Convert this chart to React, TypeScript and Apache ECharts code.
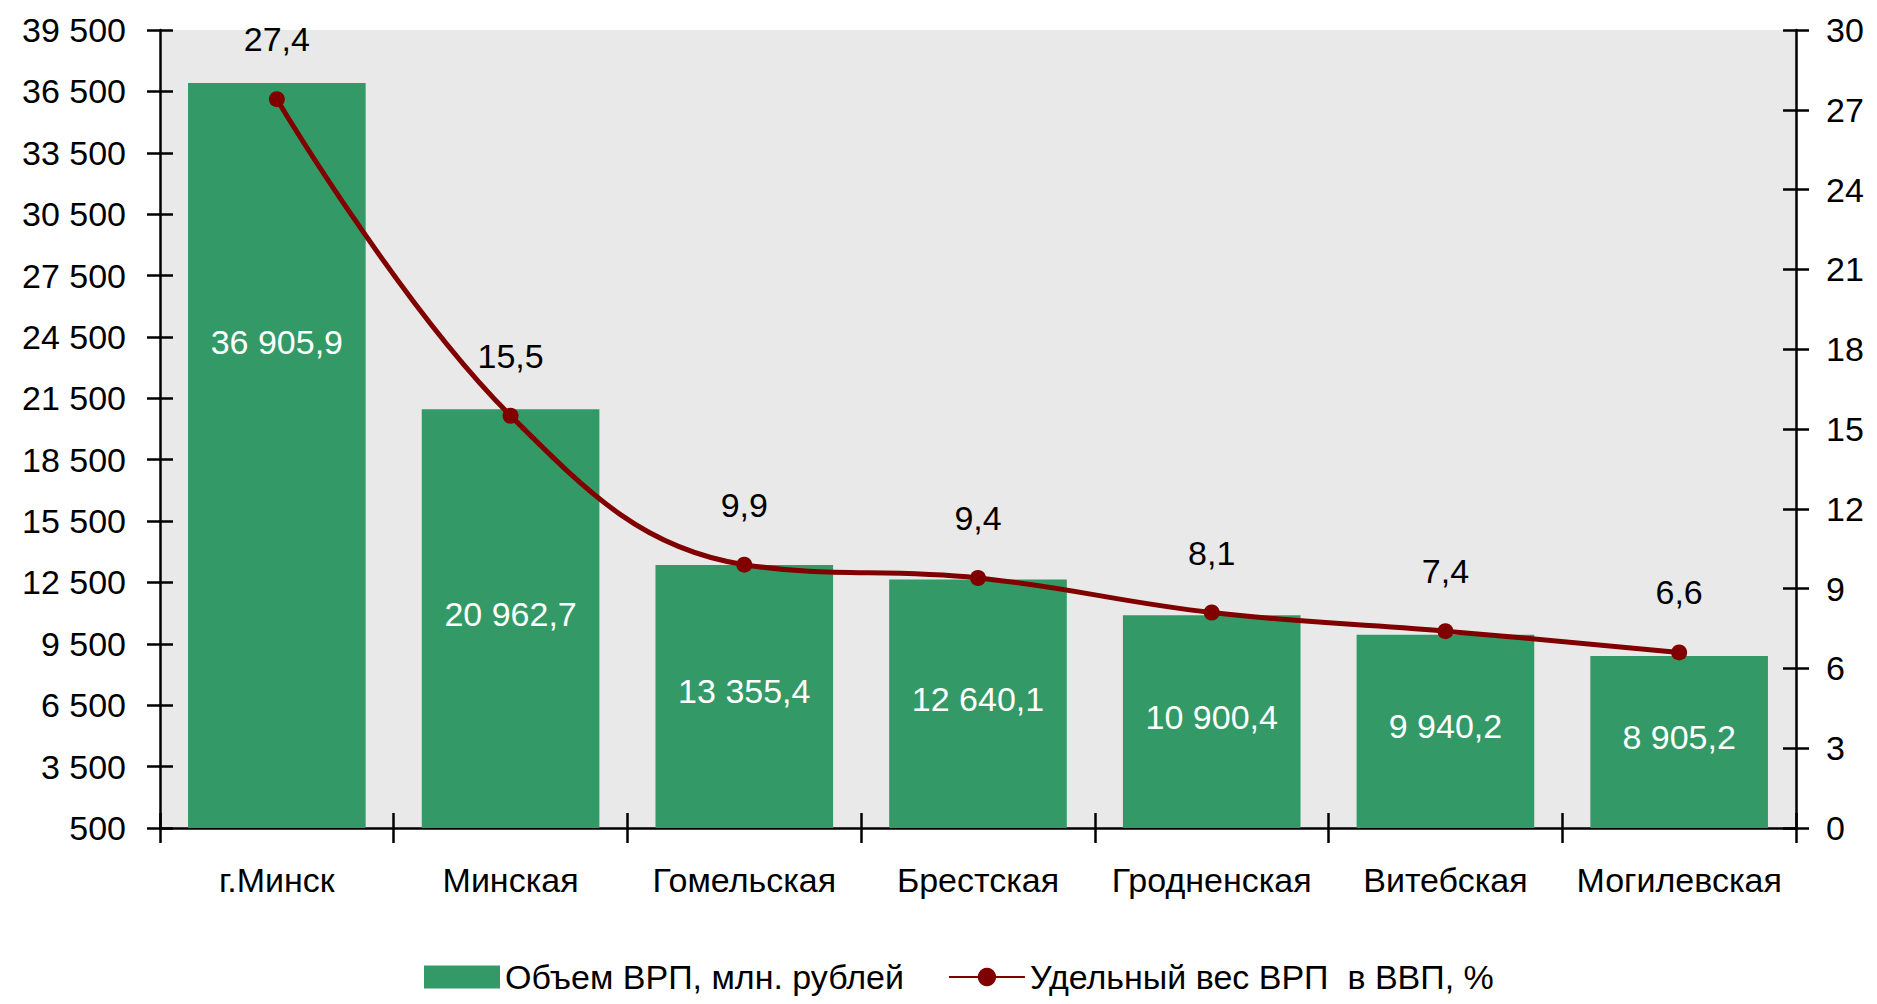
import React, { useEffect, useRef } from "react";
import * as echarts from "echarts";

const categories = ["г.Минск", "Минская", "Гомельская", "Брестская", "Гродненская", "Витебская", "Могилевская"];
const grpVolume = [36905.9, 20962.7, 13355.4, 12640.1, 10900.4, 9940.2, 8905.2];
const grpShare = [27.4, 15.5, 9.9, 9.4, 8.1, 7.4, 6.6];
const seriesNames = ["Объем ВРП, млн. рублей", "Удельный вес ВРП  в ВВП, %"];
const leftAxis = { min: 500, max: 39500, interval: 3000 };
const rightAxis = { min: 0, max: 30, interval: 3 };

function fmt(v: number, decimals: number): string {
  const s = v.toFixed(decimals);
  const [intPart, dec] = s.split(".");
  const grouped = intPart.replace(/\B(?=(\d{3})+(?!\d))/g, " ");
  return dec ? grouped + "," + dec : grouped;
}

const FONT = "'Liberation Sans', Arial, sans-serif";
const FS = 34;

export default function App() {
  const ref = useRef<HTMLDivElement>(null);
  useEffect(() => {
    if (!ref.current) return;
    const chart = echarts.init(ref.current, null, { renderer: "svg" });
    const axisLine = { show: true, lineStyle: { color: "#000", width: 2.5 } };
    const tickStyle = { color: "#000", width: 2.5 };
    const barData = grpVolume.map((v, i) =>
      i === 0 ? { value: v, label: { offset: [0, -114] } } : { value: v }
    );
    chart.setOption({
      animation: false,
      textStyle: { fontFamily: FONT },
      grid: {
        left: 160,
        right: 81,
        top: 30,
        bottom: 176,
        show: true,
        backgroundColor: "#E9E9E9",
        borderWidth: 0,
        containLabel: false,
        outerBoundsMode: "none",
      },
      legend: {
        left: 419,
        top: 958,
        padding: [2, 5, 2, 5],
        itemWidth: 76,
        itemHeight: 23,
        itemGap: 44,
        textStyle: { fontSize: FS, color: "#000", fontFamily: FONT },
        data: [
          { name: seriesNames[0], icon: "rect" },
          { name: seriesNames[1] },
        ],
      },
      xAxis: [
        {
          type: "category",
          data: categories,
          position: "bottom",
          axisLine,
          axisTick: { show: true, inside: false, length: 15, lineStyle: tickStyle },
          axisLabel: { fontSize: FS, color: "#000", margin: 35, fontFamily: FONT, interval: 0 },
          splitLine: { show: false },
        },
        {
          type: "category",
          data: categories,
          position: "bottom",
          axisLine: { show: false },
          axisTick: { show: true, inside: true, length: 15, lineStyle: tickStyle },
          axisLabel: { show: false },
          splitLine: { show: false },
        },
      ],
      yAxis: [
        {
          type: "value",
          position: "left",
          ...leftAxis,
          axisLine,
          axisTick: { show: true, inside: false, length: 13, lineStyle: tickStyle },
          axisLabel: {
            fontSize: FS,
            color: "#000",
            margin: 34,
            fontFamily: FONT,
            formatter: (v: number) => fmt(v, 0),
          },
          splitLine: { show: false },
        },
        {
          type: "value",
          position: "right",
          ...rightAxis,
          axisLine,
          axisTick: { show: true, inside: false, length: 13, lineStyle: tickStyle },
          axisLabel: { fontSize: FS, color: "#000", margin: 30, fontFamily: FONT },
          splitLine: { show: false },
        },
        {
          type: "value",
          position: "left",
          ...leftAxis,
          axisLine: { show: false },
          axisTick: { show: true, inside: true, length: 13, lineStyle: tickStyle },
          axisLabel: { show: false },
          splitLine: { show: false },
        },
        {
          type: "value",
          position: "right",
          ...rightAxis,
          axisLine: { show: false },
          axisTick: { show: true, inside: true, length: 13, lineStyle: tickStyle },
          axisLabel: { show: false },
          splitLine: { show: false },
        },
      ],
      series: [
        {
          name: seriesNames[0],
          type: "bar",
          xAxisIndex: 0,
          yAxisIndex: 0,
          data: barData,
          barCategoryGap: "24%",
          itemStyle: { color: "#339966" },
          label: {
            show: true,
            position: "inside",
            color: "#fff",
            fontSize: FS,
            fontFamily: FONT,
            offset: [0, -5],
            formatter: (p: any) => fmt(p.value, 1),
          },
          z: 2,
        },
        {
          name: seriesNames[1],
          type: "line",
          xAxisIndex: 0,
          yAxisIndex: 1,
          data: grpShare,
          smooth: 0.4,
          symbol: "circle",
          symbolSize: 16,
          lineStyle: { color: "#800000", width: 5 },
          itemStyle: { color: "#800000" },
          label: {
            show: true,
            position: "top",
            distance: 35,
            color: "#000",
            fontSize: FS,
            fontFamily: FONT,
            formatter: (p: any) => fmt(p.value, 1),
          },
          z: 5,
        },
      ],
    });
    return () => chart.dispose();
  }, []);
  return (
    <div
      ref={ref}
      style={{ position: "fixed", left: 0, top: 0, width: 1877, height: 1004, background: "#fff" }}
    />
  );
}
